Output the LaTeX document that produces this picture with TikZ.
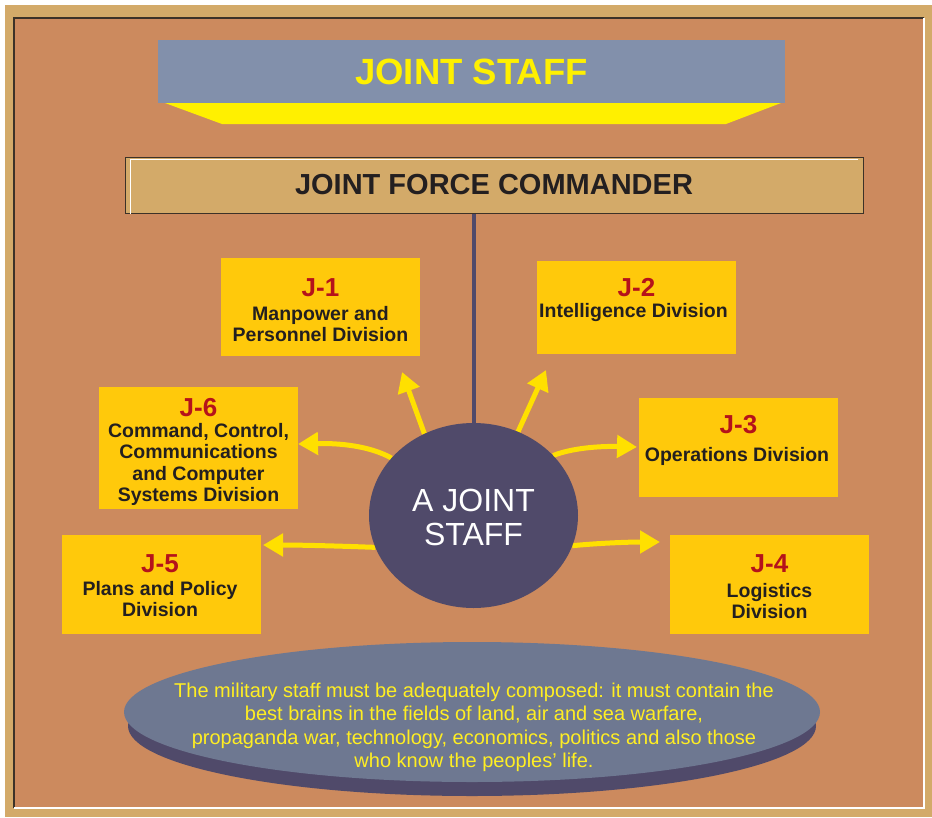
\documentclass[tikz,border=0pt]{standalone}
\usepackage{fontspec}
\setmainfont{Liberation Sans}
\usetikzlibrary{arrows.meta,shapes.geometric,calc}
\definecolor{frametan}{HTML}{D3AA69}
\definecolor{bgbrown}{HTML}{CC8A5E}
\definecolor{bannerblue}{HTML}{8290AB}
\definecolor{banneryellow}{HTML}{FFF000}
\definecolor{boxyellow}{HTML}{FFC90B}
\definecolor{jred}{HTML}{B5121B}
\definecolor{darktext}{HTML}{231F20}
\definecolor{slate}{HTML}{504A6A}
\definecolor{arrowyellow}{HTML}{FFE000}
\definecolor{facegray}{HTML}{6E7891}
\definecolor{notetext}{HTML}{FFEE22}
\definecolor{edgedark}{HTML}{3C3228}
\begin{document}
\begin{tikzpicture}[x=1pt,y=-1pt,
  jbox/.style={fill=boxyellow, minimum width=199pt, inner sep=0pt, outer sep=0pt},
  jhead/.style={anchor=base, text=jred, inner sep=0pt, font=\bfseries\fontsize{26}{26}\selectfont},
  jbody/.style={anchor=north, text=darktext, inner sep=0pt, align=center, font=\bfseries\fontsize{19.5}{21.5}\selectfont},
  arr/.style={draw=arrowyellow, line width=5pt, -{Triangle[length=20pt,width=22pt]}}]
\useasboundingbox (0,0) rectangle (932,817);
% frame
\fill[white] (0,0) rectangle (932,817);
\fill[frametan] (5,5) rectangle (932,817);
\fill[bgbrown] (14,18) rectangle (924,808);
\draw[edgedark, line width=1.2pt] (14,808) -- (14,18) -- (924,18);
\draw[white, line width=1.2pt] (14,808) -- (924,808) -- (924,18);
% title banner
\fill[banneryellow] (165,103) -- (781,103) -- (726,124) -- (222,124) -- cycle;
\node[fill=bannerblue, minimum width=627pt, minimum height=63pt, inner sep=0pt, text=banneryellow,
      font=\bfseries\fontsize{36.5}{36.5}\selectfont] (banner) at (471.5,71.5) {JOINT STAFF};
% joint force commander
\node[fill=frametan, draw=edgedark, line width=1pt, minimum width=738pt, minimum height=56pt, inner sep=0pt,
      text=darktext, font=\bfseries\fontsize{29}{29}\selectfont] (jfc) at (494,185) {JOINT FORCE COMMANDER};
\draw[white, line width=0.8pt] ($(jfc.south west)+(6,0)$) -- ($(jfc.north west)+(6,3)$) -- ($(jfc.north east)+(-6,3)$);
% boxes
\node[jbox, minimum height=98pt] (j1) at (320.5,307) {};
\node[jbox, minimum height=93pt] (j2) at (636.5,307.5) {};
\node[jbox, minimum height=99pt] (j3) at (738.5,447.5) {};
\node[jbox, minimum height=99pt] (j4) at (769.5,584.5) {};
\node[jbox, minimum height=122pt] (j6) at (198.5,448) {};
\node[jbox, minimum height=99pt] (j5) at (161.5,584.5) {};
% box texts
\node[jhead] (h1) at (320.5,296) {J-1};
\node[jbody] (b1) at (320.5,306) {Manpower and\\Personnel Division};
\node[jhead] (h2) at (636.5,296) {J-2};
\node[jbody] (b2) at (633.5,303) {Intelligence Division};
\node[jhead] (h3) at (738.5,433) {J-3};
\node[jbody] (b3) at (737,447) {Operations Division};
\node[jhead] (h4) at (769.5,572) {J-4};
\node[jbody] (b4) at (769.5,583) {Logistics\\Division};
\node[jhead] (h6) at (198.5,416) {J-6};
\node[jbody] (b6) at (198.5,423) {Command, Control,\\Communications\\and Computer\\Systems Division};
\node[jhead] (h5) at (160,572) {J-5};
\node[jbody] (b5) at (160,581) {Plans and Policy\\Division};
% central circle
\node[ellipse, minimum width=209pt, minimum height=185pt, inner sep=0pt, outer sep=0pt] (cs) at (473.5,515.5) {};
\draw[slate, line width=4pt] (cs.north) -- (cs.north |- jfc.south);
% arrow tips
\coordinate (t1) at (402,372);
\coordinate (t2) at (546,370);
\coordinate (t3) at (637,447);
\coordinate (t4) at (660,542);
\coordinate (t5) at (263,545);
\coordinate (t6) at (298,444);
\draw[arr] (cs.121) -- (t1);
\draw[arr] (cs.62) -- (t2);
\draw[arr] (cs.145) .. controls (370,446) and (340,443) .. (t6);
\draw[arr] (cs.37.6) .. controls (572,448) and (600,446) .. (t3);
\draw[arr] (cs.198.6) .. controls (340,546) and (300,545) .. (t5);
\draw[arr] (cs.-17.6) .. controls (600,543) and (630,542) .. (t4);
\fill[slate] (cs.center) ellipse [x radius=104.5, y radius=92.5];
\node[text=white, align=center, inner sep=0pt, font=\fontsize{32}{34}\selectfont] (cstext) at (473.5,517) {A JOINT\\STAFF};
% bottom note ellipse
\fill[slate] (472,726) ellipse [x radius=344, y radius=70];
\fill[facegray] (472,712) ellipse [x radius=348, y radius=70];
\node[anchor=north, text=notetext, align=center, inner sep=0pt, font=\fontsize{20}{23.5}\selectfont] (note) at (474,682.5)
  {The military staff must be adequately composed: it must contain the\\
   best brains in the fields of land, air and sea warfare,\\
   propaganda war, technology, economics, politics and also those\\
   who know the peoples{\char"0027} life.};
\end{tikzpicture}
\end{document}
